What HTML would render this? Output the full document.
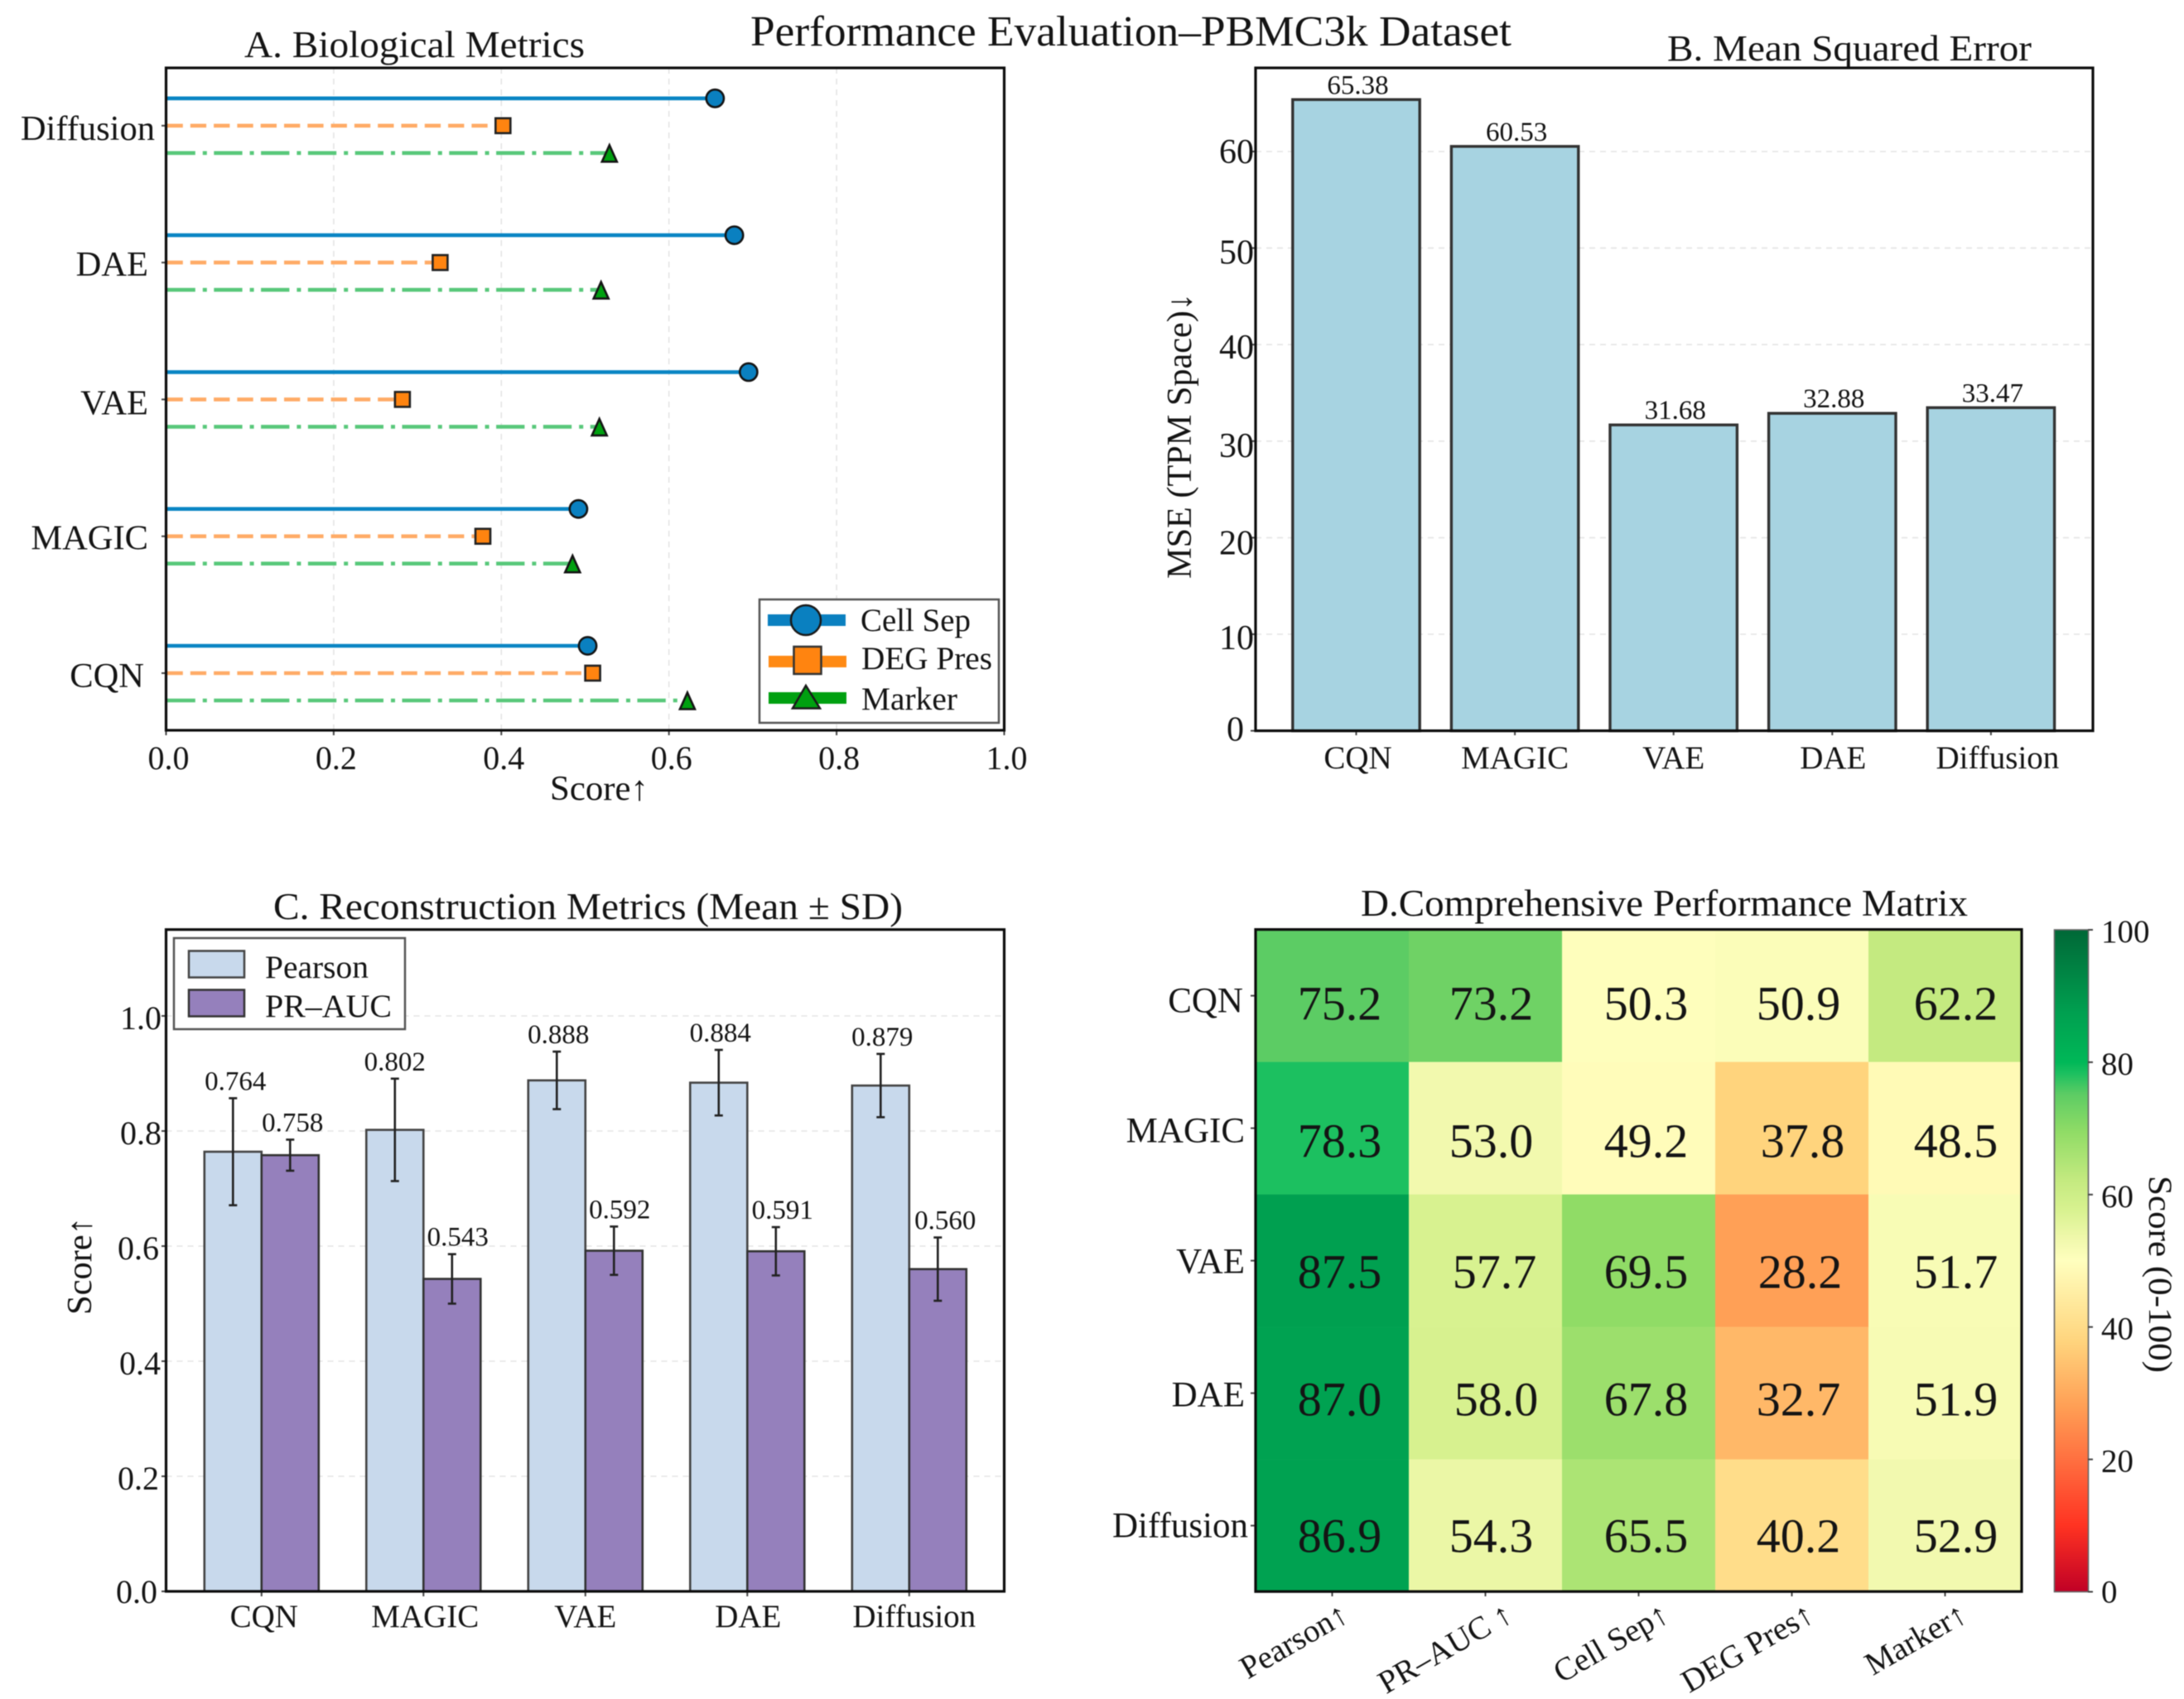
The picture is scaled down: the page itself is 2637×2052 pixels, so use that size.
<!DOCTYPE html>
<html lang="en">
<head>
<meta charset="utf-8">
<title>Performance Evaluation–PBMC3k Dataset</title>
<style>
html,body{margin:0;padding:0;background:#fff;width:2637px;height:2052px;overflow:hidden}
svg{display:block;filter:blur(0.6px)}
text{font-family:"Liberation Serif","DejaVu Serif",serif;fill:#141414}
</style>
</head>
<body>
<svg id="figure" xmlns="http://www.w3.org/2000/svg" width="2637" height="2052" viewBox="0 0 2637 2052">
  <rect x="0" y="0" width="2637" height="2052" fill="#fff"/>
  <text x="906" y="55" font-size="52" textLength="919" lengthAdjust="spacingAndGlyphs">Performance Evaluation–PBMC3k Dataset</text>
  <text x="295" y="69" font-size="45" textLength="411" lengthAdjust="spacingAndGlyphs">A. Biological Metrics</text>
  <text x="2013" y="73" font-size="44" textLength="440" lengthAdjust="spacingAndGlyphs">B. Mean Squared Error</text>
  <text x="330" y="1110" font-size="45" textLength="760" lengthAdjust="spacingAndGlyphs">C. Reconstruction Metrics (Mean ± SD)</text>
  <text x="1643" y="1106" font-size="45" textLength="733" lengthAdjust="spacingAndGlyphs">D.Comprehensive Performance Matrix</text>
  <text x="664" y="966" font-size="42" textLength="119" lengthAdjust="spacingAndGlyphs">Score↑</text>
  <text transform="translate(1438,699) rotate(-90)" font-size="42" textLength="345" lengthAdjust="spacingAndGlyphs">MSE (TPM Space)↓</text>
  <text transform="translate(110,1588) rotate(-90)" font-size="42" textLength="118" lengthAdjust="spacingAndGlyphs">Score↑</text>
  <text transform="translate(2595,1420) rotate(90)" font-size="40" textLength="238" lengthAdjust="spacingAndGlyphs">Score (0-100)</text>
  <defs>
    <linearGradient id="colorbarGradient" x1="0" y1="1" x2="0" y2="0"></linearGradient>
  </defs>
  <g id="panelA"></g>
  <g id="panelB"></g>
  <g id="panelC"></g>
  <g id="panelD"></g>
  <g id="legendA">
    <rect x="917" y="724" width="289" height="149" fill="#fff" stroke="#555" stroke-width="2.5"/>
    <line x1="927" x2="1021" y1="749" y2="749" stroke="#0a80c0" stroke-width="14"/>
    <circle cx="973" cy="749" r="18" fill="#0a80c0" stroke="#1a1a1a" stroke-width="2.5"/>
    <text x="1039" y="762" font-size="39" textLength="133" lengthAdjust="spacingAndGlyphs">Cell Sep</text>
    <line x1="928" x2="1022" y1="799" y2="799" stroke="#ff8a14" stroke-width="14"/>
    <rect x="958.5" y="781" width="33" height="33" fill="#ff8410" stroke="#333" stroke-width="2.5"/>
    <text x="1040" y="808" font-size="39" textLength="158" lengthAdjust="spacingAndGlyphs">DEG Pres</text>
    <line x1="928" x2="1022" y1="843" y2="843" stroke="#00a010" stroke-width="14"/>
    <polygon points="973,828 990,855.5 957,855.5" fill="#00a010" stroke="#1a1a1a" stroke-width="2.5"/>
    <text x="1040" y="857" font-size="39" textLength="116" lengthAdjust="spacingAndGlyphs">Marker</text>
  </g>
  <g id="legendC">
    <rect x="210" y="1133" width="279" height="110" fill="#fff" stroke="#555" stroke-width="2.5"/>
    <rect x="228" y="1148.5" width="67" height="32" fill="#c8d9ec" stroke="#444" stroke-width="2.5"/>
    <text x="320" y="1181" font-size="39" textLength="125" lengthAdjust="spacingAndGlyphs">Pearson</text>
    <rect x="228" y="1195.5" width="67" height="32" fill="#9580bc" stroke="#333" stroke-width="2.5"/>
    <text x="320" y="1228" font-size="39" textLength="153" lengthAdjust="spacingAndGlyphs">PR–AUC</text>
  </g>
</svg>
<script>
// ---------- chart data ----------
const methods = ['CQN', 'MAGIC', 'VAE', 'DAE', 'Diffusion'];
const cellSep = [0.503, 0.492, 0.695, 0.678, 0.655];
const degPres = [0.509, 0.378, 0.282, 0.327, 0.402];
const markerScore = [0.622, 0.485, 0.517, 0.519, 0.529];
const mseValues = [65.38, 60.53, 31.68, 32.88, 33.47];
const pearsonMean = [0.764, 0.802, 0.888, 0.884, 0.879];
const pearsonSd = [0.093, 0.089, 0.050, 0.057, 0.055];
const prAucMean = [0.758, 0.543, 0.592, 0.591, 0.560];
const prAucSd = [0.027, 0.043, 0.042, 0.042, 0.055];
const heatColumns = ['Pearson↑', 'PR–AUC ↑', 'Cell Sep↑', 'DEG Pres↑', 'Marker↑'];
const heatValues = [
  [75.2, 73.2, 50.3, 50.9, 62.2],
  [78.3, 53.0, 49.2, 37.8, 48.5],
  [87.5, 57.7, 69.5, 28.2, 51.7],
  [87.0, 58.0, 67.8, 32.7, 51.9],
  [86.9, 54.3, 65.5, 40.2, 52.9]
];
const ticksA = [0, 0.2, 0.4, 0.6, 0.8, 1.0];
const ticksB = [0, 10, 20, 30, 40, 50, 60];
const ticksC = [0, 0.2, 0.4, 0.6, 0.8, 1.0];
const ticksColorbar = [0, 20, 40, 60, 80, 100];

// ---------- colormap (style, not data) ----------
const colormap = [[0,'#c00026'],[10,'#ff3322'],[20,'#ff7040'],[28,'#ff9f55'],[38,'#ffd57e'],[50,'#ffffbe'],[53,'#f2f9ae'],[57.7,'#d8f290'],[62.2,'#c4ea80'],[69.5,'#90dc66'],[73.2,'#6fd265'],[75.2,'#5ccc64'],[78.3,'#1cc060'],[80,'#00b858'],[87.5,'#00a050'],[100,'#006837']];
function hexRgb(h){return [1,3,5].map(function(i){return parseInt(h.substr(i,2),16);});}
function colorFor(v){
  for(let i=1;i<colormap.length;i++){
    if(v<=colormap[i][0]){
      const t=(v-colormap[i-1][0])/(colormap[i][0]-colormap[i-1][0]);
      const a=hexRgb(colormap[i-1][1]),b=hexRgb(colormap[i][1]);
      return 'rgb('+a.map(function(c,k){return Math.round(c+(b[k]-c)*t);}).join(',')+')';
    }
  }
  return colormap[colormap.length-1][1];
}

// ---------- axis functions ----------
const xA=function(v){return 200.5+v*1012;};
const yA=function(i){return 813-i*165.3;};
const xB=function(i){return 1637.5+i*191.6;};
const yB=function(v){return 882.6-v*11.66;};
const xC=function(i){return 315.8+i*195.5;};
const yC=function(v){return 1922-v*695;};
const xD=function(c){return 1516+c*185;};
const yD=function(r){return 1122.6+r*160;};
const yBar=function(v){return 1922.5-v*7.995;};

const NS='http://www.w3.org/2000/svg';
function add(parent,tag,attrs){
  const el=document.createElementNS(NS,tag);
  for(const k in attrs){el.setAttribute(k,attrs[k]);}
  parent.appendChild(el);
  return el;
}
function addText(parent,x,y,str,size,anchor){
  const el=add(parent,'text',{x:x,y:y,'font-size':size,'text-anchor':anchor||'middle'});
  el.textContent=str;
  return el;
}
function addTick(parent,x1,y1,x2,y2){
  return add(parent,'line',{x1:x1,y1:y1,x2:x2,y2:y2,stroke:'#444','stroke-width':2});
}
function addGrid(parent,x1,y1,x2,y2){
  return add(parent,'line',{x1:x1,y1:y1,x2:x2,y2:y2,stroke:'#e4e4e4','stroke-width':1.6,'stroke-dasharray':'7 6'});
}
function addFrame(parent,x,y,w,h){
  return add(parent,'rect',{x:x,y:y,width:w,height:h,fill:'none',stroke:'#0c0c0c','stroke-width':3.2});
}

// ---------- panel A ----------
const panelA=document.getElementById('panelA');
ticksA.forEach(function(t){
  if(t>0&&t<1){
    const g=addGrid(panelA,xA(t),82,xA(t),882);
    
    
  }
  const tk=addTick(panelA,xA(t),882,xA(t),888);
  
  
  const lb=addText(panelA,xA(t)+3,929,t.toFixed(1),40);
  
  
});
const labelEndA=[174,179,179,179,187];
const labelDropA=[17,16,18,16,17];
methods.forEach(function(m,i){
  const y=yA(i);
  const tk=addTick(panelA,195,y,200.5,y);
  
  
  const lb=addText(panelA,labelEndA[i],y+labelDropA[i],m,42.5,'end');
  
  

  const l1=add(panelA,'line',{x1:xA(0),x2:xA(cellSep[i]),y1:y-33,y2:y-33,stroke:'#0a85c4','stroke-width':4.6});
  
  
  const l2=add(panelA,'line',{x1:xA(0)+1,x2:xA(degPres[i]),y1:y,y2:y,stroke:'#ffab66','stroke-width':4.6,'stroke-dasharray':'19.3 9'});
  
  
  const l3=add(panelA,'line',{x1:xA(0)+1,x2:xA(markerScore[i]),y1:y+33,y2:y+33,stroke:'#58c87a','stroke-width':4.6,'stroke-dasharray':'34.3 9 5 8.5'});
  
  

  const c=add(panelA,'circle',{cx:xA(cellSep[i]),cy:y-33,r:10.6,fill:'#0a80c0',stroke:'#141414','stroke-width':2.6});
  
  
  const s=add(panelA,'rect',{x:xA(degPres[i])-9,y:y-9,width:18,height:18,fill:'#ff8410',stroke:'#222','stroke-width':2.6});
  
  
  const tx=xA(markerScore[i]),ty=y+34.5;
  const t=add(panelA,'polygon',{points:tx+','+(ty-11)+' '+(tx+9)+','+(ty+9)+' '+(tx-9)+','+(ty+9),fill:'#00a010',stroke:'#141414','stroke-width':2.6});
  
  
});
const frameA=addFrame(panelA,200.5,82,1012,800);



// ---------- panel B ----------
const panelB=document.getElementById('panelB');
const tickDropB=[12,18,20,19,17,19,14];
ticksB.forEach(function(t,k){
  if(t>0){
    const g=addGrid(panelB,1516,yB(t),2527,yB(t));
    
    
  }
  const tk=addTick(panelB,1510,yB(t),1516,yB(t));
  
  
  const lb=addText(panelB,t===0?1502:1514,yB(t)+tickDropB[k],String(t),42,'end');
  
  
});
const labelNudgeB=[2,0,0,1,8];
methods.forEach(function(m,i){
  const bar=add(panelB,'rect',{x:xB(i)-76.7,y:yB(mseValues[i]),width:153.4,height:yB(0)-yB(mseValues[i]),fill:'#a7d3e1',stroke:'#333','stroke-width':3.4});
  
  
  const v=addText(panelB,xB(i)+2,yB(mseValues[i])-7,mseValues[i].toFixed(2),33);
  
  
  const tk=addTick(panelB,xB(i),882.6,xB(i),888);
  
  
  const lb=addText(panelB,xB(i)+labelNudgeB[i],928,m,39);
  
  
});
const frameB=addFrame(panelB,1516,82,1011,800.6);



// ---------- panel C ----------
const panelC=document.getElementById('panelC');
const tickEndC=[190,192,194,192,195,195];
ticksC.forEach(function(t,k){
  if(t>0){
    const g=addGrid(panelC,200.5,yC(t),1212.5,yC(t));
    
    
  }
  const tk=addTick(panelC,195,yC(t),200.5,yC(t));
  
  
  const lb=addText(panelC,tickEndC[k],yC(t)+(t===0?14:16),t.toFixed(1),40,'end');
  
  
});
const barW=69;
function drawErr(parent,x,mean,sd,m,kind,labelShift){
  const stem=add(parent,'line',{x1:x,x2:x,y1:yC(mean+sd),y2:yC(mean-sd),stroke:'#222','stroke-width':2.6});
  
  
  const capTop=add(parent,'line',{x1:x-5,x2:x+5,y1:yC(mean+sd),y2:yC(mean+sd),stroke:'#222','stroke-width':2.6});
  
  
  const capBot=add(parent,'line',{x1:x-5,x2:x+5,y1:yC(mean-sd),y2:yC(mean-sd),stroke:'#222','stroke-width':2.6});
  
  
  const v=addText(parent,x+labelShift,yC(mean+sd)-10,mean.toFixed(3),33);
  
  
}
const labelNudgeC=[3,2,0,1,6];
const pearsonLabelShift=[3,0,2,2,2];
const prLabelShift=[3,7,7,8,9];
methods.forEach(function(m,i){
  const p=add(panelC,'rect',{x:xC(i)-barW,y:yC(pearsonMean[i]),width:barW,height:yC(0)-yC(pearsonMean[i]),fill:'#c8d9ec',stroke:'#444','stroke-width':2.6});
  
  
  const q=add(panelC,'rect',{x:xC(i),y:yC(prAucMean[i]),width:barW,height:yC(0)-yC(prAucMean[i]),fill:'#9580bc',stroke:'#333','stroke-width':2.6});
  
  
  drawErr(panelC,xC(i)-barW/2,pearsonMean[i],pearsonSd[i],m,'pearson',pearsonLabelShift[i]);
  drawErr(panelC,xC(i)+barW/2,prAucMean[i],prAucSd[i],m,'pr-auc',prLabelShift[i]);
  const tk=addTick(panelC,xC(i),1922,xC(i),1928);
  
  
  const lb=addText(panelC,xC(i)+labelNudgeC[i],1965,m,39);
  
  
});
const frameC=addFrame(panelC,200.5,1122.7,1012,799.3);



// ---------- panel D ----------
const panelD=document.getElementById('panelD');
const colShift=[9,7,9,8,13];
const rowShift=[29,35,33,27,32];
const cellShift={'1,3':5,'2,1':4,'3,1':6,'2,3':2};
const rowLabelEnd=[1501,1503,1503,1503,1507];
const rowLabelDrop=[20,17,15,16,14];
const colLabelEndX=[22,35,39,29,29];
methods.forEach(function(m,r){
  heatColumns.forEach(function(col,c){
    const v=heatValues[r][c];
    const cell=add(panelD,'rect',{x:xD(c),y:yD(r),width:185.3,height:160.3,fill:colorFor(v)});
    
    
  });
});
methods.forEach(function(m,r){
  heatColumns.forEach(function(col,c){
    const v=heatValues[r][c];
    const extra=cellShift[r+','+c]||0;
    const t=addText(panelD,xD(c)+92.5+colShift[c]+extra,yD(r)+80+rowShift[r],v.toFixed(1),58);
    
    
  });
  const tk=addTick(panelD,1510,yD(r)+80,1516,yD(r)+80);
  
  
  const lb=addText(panelD,rowLabelEnd[r],yD(r)+80+rowLabelDrop[r],m,43,'end');
  
  
});
heatColumns.forEach(function(col,c){
  const x=xD(c)+92.5;
  const tk=addTick(panelD,x,1922,x,1928);
  
  
  const lb=add(panelD,'text',{transform:'translate('+(x+colLabelEndX[c])+',1957) rotate(-30)','font-size':39,'text-anchor':'end'});
  lb.textContent=col;
  
  
});
const frameD=addFrame(panelD,1516,1122.6,925,799.6);



// colorbar
const grad=document.getElementById('colorbarGradient');
colormap.forEach(function(s){
  const st=document.createElementNS(NS,'stop');
  st.setAttribute('offset',(s[0])+'%');
  st.setAttribute('stop-color',s[1]);
  grad.appendChild(st);
});
const cbar=add(panelD,'rect',{x:2480.5,y:1123,width:41,height:799.5,fill:'url(#colorbarGradient)',stroke:'#666','stroke-width':1.6});


ticksColorbar.forEach(function(t){
  const y=yBar(t);
  const tk=addTick(panelD,2521,y,2527,y);
  
  
  const lb=addText(panelD,2537,y+(t===0?13:15),String(t),39,'start');
  
  
});

// keep legends on top of the panels
const fig=document.getElementById('figure');
fig.appendChild(document.getElementById('legendA'));
fig.appendChild(document.getElementById('legendC'));
</script>
</body>
</html>
